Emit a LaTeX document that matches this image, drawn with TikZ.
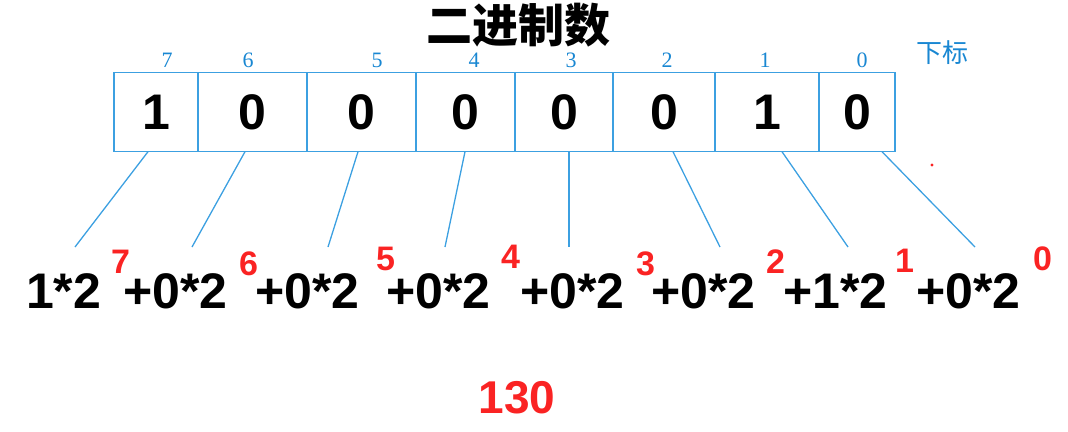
\documentclass[tikz,border=0pt]{standalone}
\usepackage{fontspec}
\setmainfont{Liberation Sans}
\newfontfamily\idxfont{Liberation Serif}
\newfontfamily\cjk{Noto Sans CJK SC}
\definecolor{boxblue}{RGB}{60,160,225}
\definecolor{lblblue}{RGB}{25,135,210}
\definecolor{sred}{RGB}{250,35,35}
\begin{document}
\begin{tikzpicture}[x=1pt,y=-1pt,
  cell/.style={draw=boxblue,line width=1.6pt,inner sep=0pt,minimum height=79pt,
    font=\fontsize{50}{56}\selectfont\bfseries,text=black},
  idx/.style={inner sep=0pt,text=lblblue,font=\idxfont\fontsize{22}{24}\selectfont},
  term/.style={inner sep=0pt,anchor=base west,text=black,font=\fontsize{50}{56}\selectfont\bfseries},
  pw/.style={inner sep=0pt,anchor=base west,text=sred,font=\fontsize{34}{38}\selectfont\bfseries},
  conn/.style={draw=boxblue,line width=1.3pt}]
\useasboundingbox (0,0) rectangle (1068,431);
% title
\node[inner sep=0pt,font=\cjk\bfseries\fontsize{46}{50}\selectfont] (title) at (518,25) {二进制数};
\node[inner sep=0pt,text=lblblue,font=\cjk\fontsize{26}{28}\selectfont] (sub) at (942,53) {下标};
% cells
\node[cell,minimum width=84pt] (c7) at (156,112) {1};
\node[cell,minimum width=109pt] (c6) at (252.5,112) {0};
\node[cell,minimum width=109pt] (c5) at (361.5,112) {0};
\node[cell,minimum width=99pt] (c4) at (465.5,112) {0};
\node[cell,minimum width=98pt] (c3) at (564,112) {0};
\node[cell,minimum width=102pt] (c2) at (664,112) {0};
\node[cell,minimum width=104pt] (c1) at (767,112) {1};
\node[cell,minimum width=76pt] (c0) at (857,112) {0};
% index labels
\node[idx] (i7) at (167,60.5) {7};
\node[idx] (i6) at (248,60.5) {6};
\node[idx] (i5) at (377,60.5) {5};
\node[idx] (i4) at (474,60.5) {4};
\node[idx] (i3) at (571,60.5) {3};
\node[idx] (i2) at (667,60.5) {2};
\node[idx] (i1) at (765,60.5) {1};
\node[idx] (i0) at (862,60.5) {0};
% formula terms
\node[term] (f7) at (26,308) {1*2};
\node[pw] (p7) at (111,273) {7};
\node[term] (f6) at (123,308) {+0*2};
\node[pw] (p6) at (239,275) {6};
\node[term] (f5) at (255,308) {+0*2};
\node[pw] (p5) at (376,270) {5};
\node[term] (f4) at (386,308) {+0*2};
\node[pw] (p4) at (501,268) {4};
\node[term] (f3) at (520,308) {+0*2};
\node[pw] (p3) at (636,275) {3};
\node[term] (f2) at (651,308) {+0*2};
\node[pw] (p2) at (766,273) {2};
\node[term] (f1) at (783,308) {+1*2};
\node[pw] (p1) at (895,272) {1};
\node[term] (f0) at (916,308) {+0*2};
\node[pw] (p0) at (1033,270) {0};
% result
\node[inner sep=0pt,text=sred,font=\fontsize{46}{50}\selectfont\bfseries] (res) at (517,398) {130};
% connector ends
\coordinate (t7) at (148,151.7); \coordinate (b7) at (75,247);
\coordinate (t6) at (245,151.7); \coordinate (b6) at (192,247);
\coordinate (t5) at (358,151.7); \coordinate (b5) at (328,247);
\coordinate (t4) at (465,151.7); \coordinate (b4) at (445,247);
\coordinate (t3) at (569,151.7); \coordinate (b3) at (569,247);
\coordinate (t2) at (673,151.7); \coordinate (b2) at (720,247);
\coordinate (t1) at (782,151.7); \coordinate (b1) at (848,247);
\coordinate (t0) at (882,151.7); \coordinate (b0) at (975,247);
\foreach \i in {0,...,7} {\draw[conn] (t\i) -- (b\i);}
% small red dot
\fill[sred] (932,165) circle (1.6pt);
\end{tikzpicture}
\end{document}
